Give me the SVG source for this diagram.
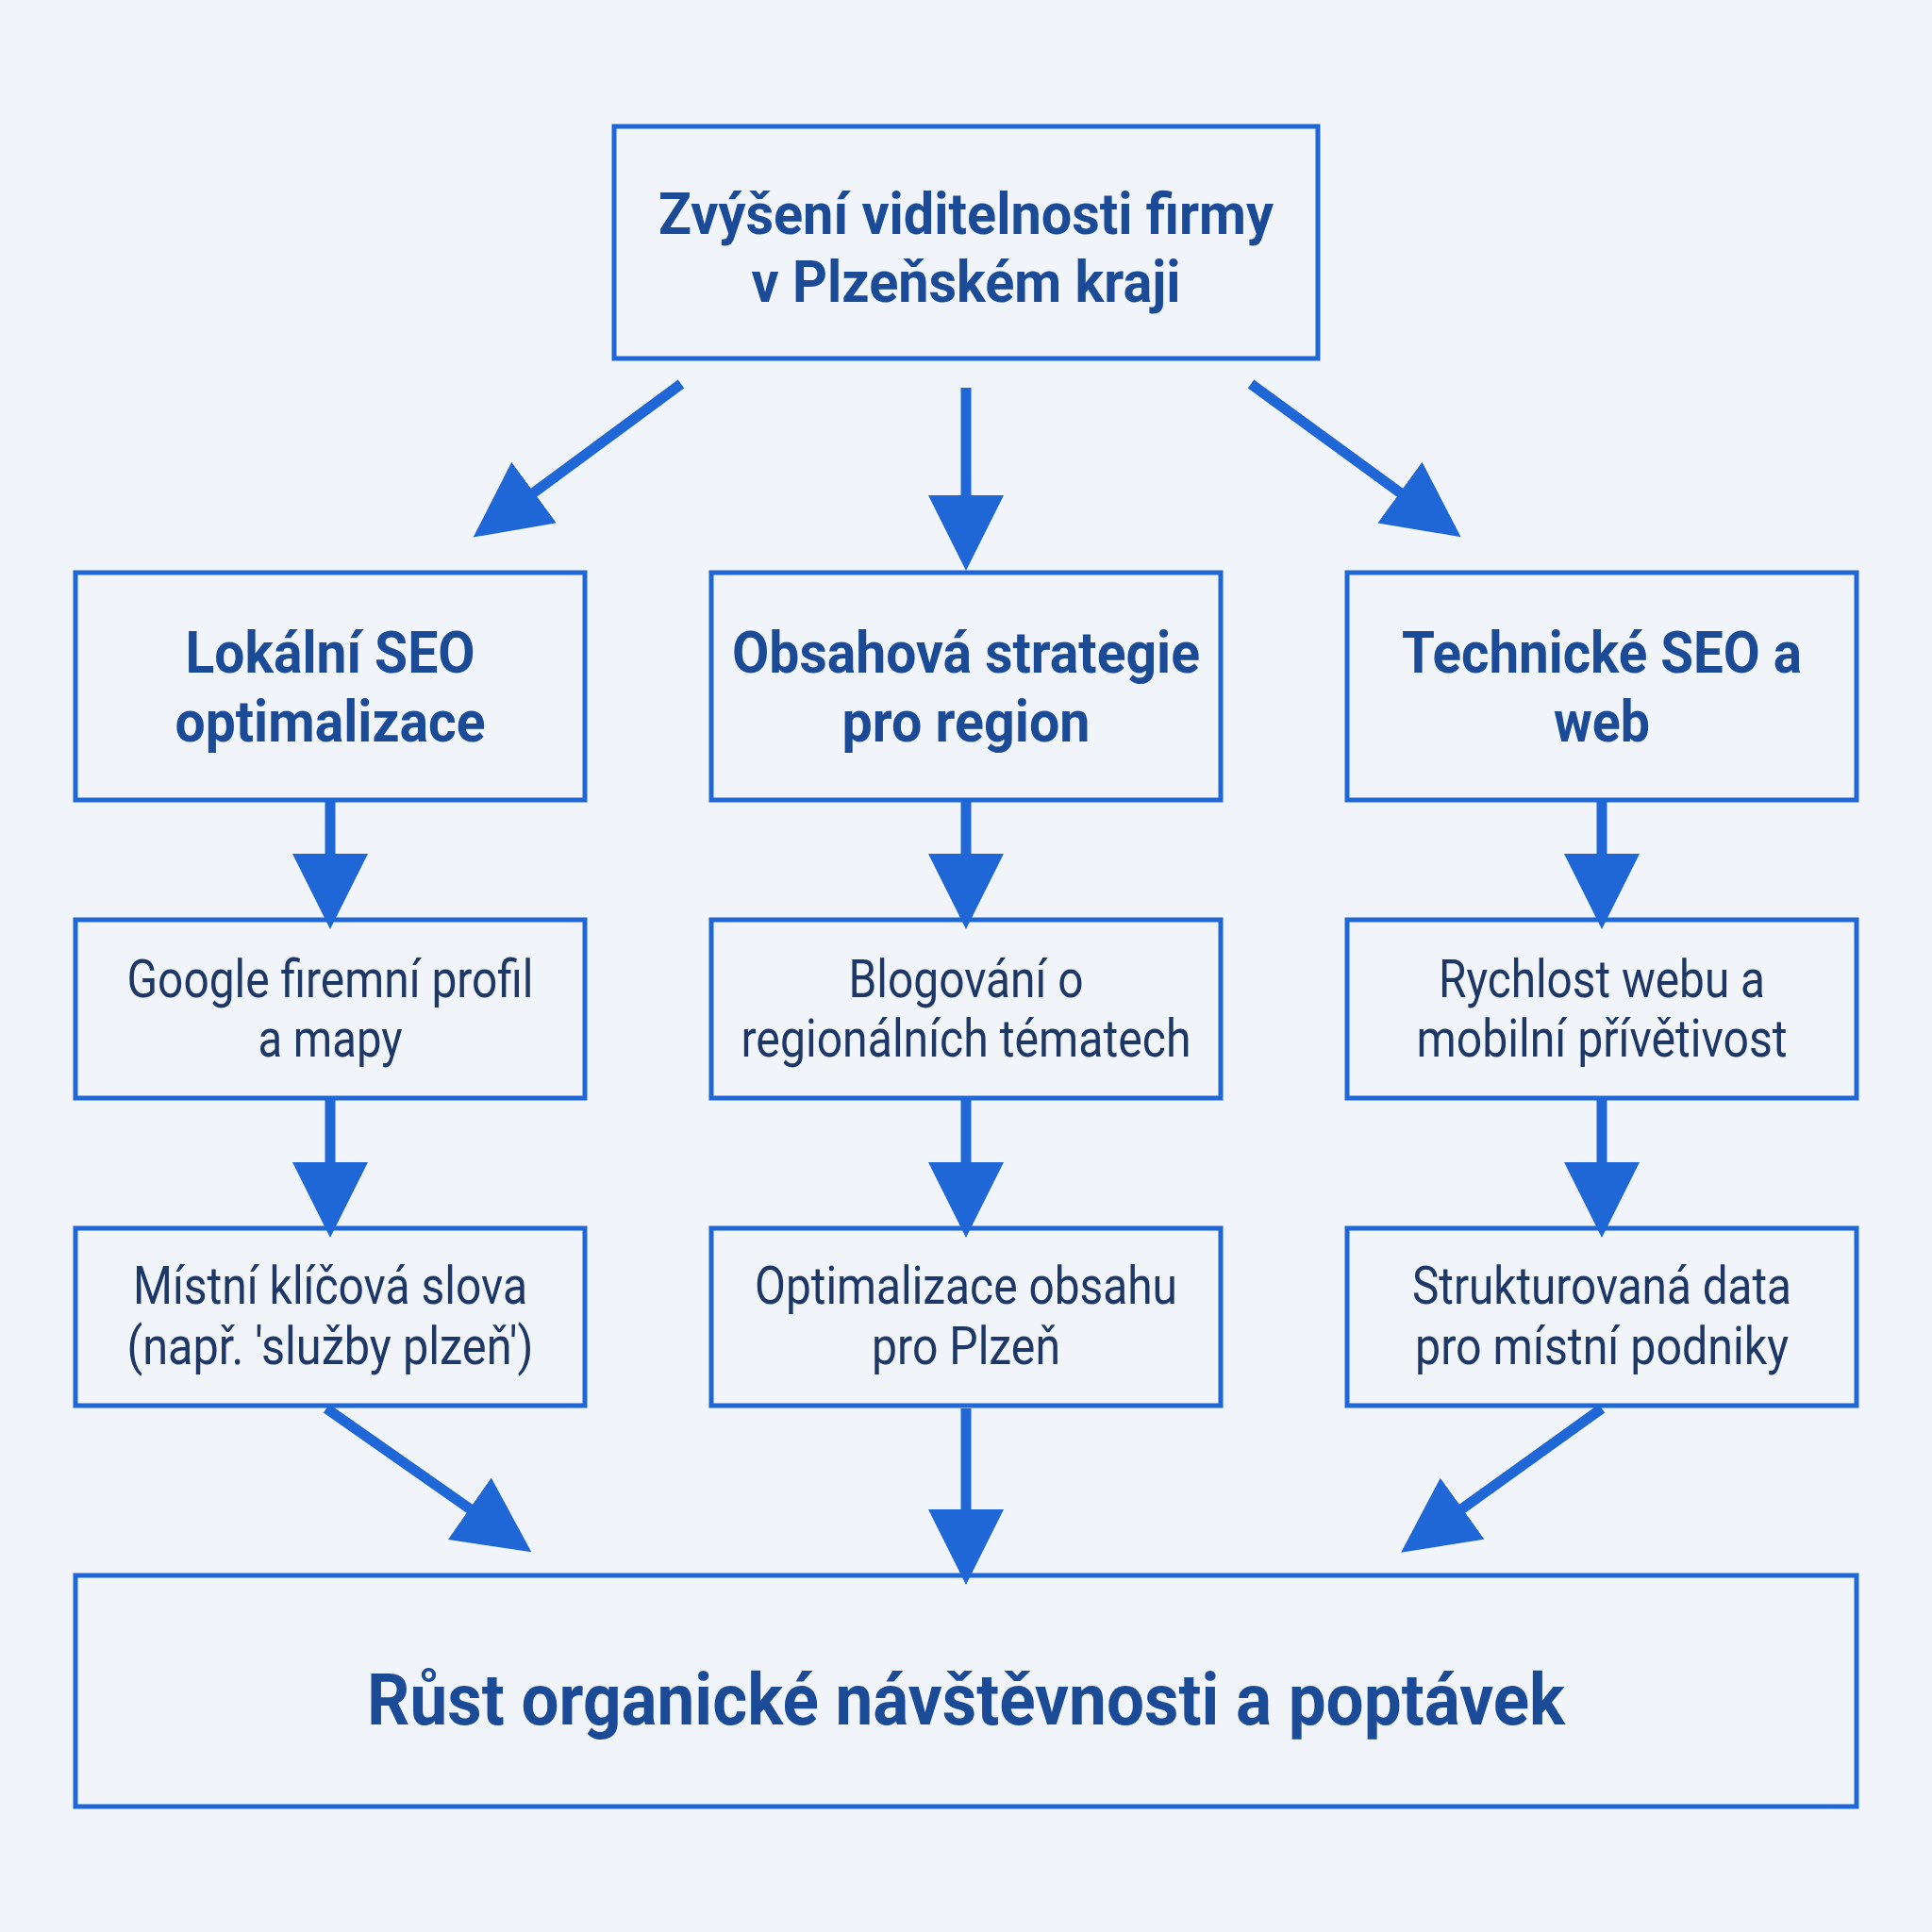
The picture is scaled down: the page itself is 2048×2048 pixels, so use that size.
<svg xmlns="http://www.w3.org/2000/svg" width="2048" height="2048" viewBox="0 0 2048 2048">
<style>
.box{fill:none;stroke:#1f66d6;stroke-width:5}
.b{font-family:Roboto,"Liberation Sans",sans-serif;font-weight:bold;fill:#1b4a96;text-anchor:middle}
.r{font-family:Roboto,"Liberation Sans",sans-serif;fill:#1d3766;text-anchor:middle;font-size:56px}
.c{stroke:#1f66d6;stroke-width:11;fill:none}
</style>
<defs>
<marker id="ah" markerUnits="userSpaceOnUse" markerWidth="80" markerHeight="80" viewBox="0 0 80 80" refX="10" refY="40" orient="auto">
<path d="M0,0 L80,40 L0,80 Z" fill="#1f66d6"/>
</marker>
</defs>
<rect width="2048" height="2048" fill="#f1f5f9"/>
<g id="connectors">
<line class="c" x1="722" y1="407" x2="558" y2="528" marker-end="url(#ah)"/>
<line class="c" x1="1024" y1="411" x2="1024" y2="535" marker-end="url(#ah)"/>
<line class="c" x1="1326" y1="407" x2="1492" y2="528" marker-end="url(#ah)"/>
<line class="c" x1="350" y1="848" x2="350" y2="915" marker-end="url(#ah)"/>
<line class="c" x1="1024" y1="848" x2="1024" y2="915" marker-end="url(#ah)"/>
<line class="c" x1="1698" y1="848" x2="1698" y2="915" marker-end="url(#ah)"/>
<line class="c" x1="350" y1="1164" x2="350" y2="1242" marker-end="url(#ah)"/>
<line class="c" x1="1024" y1="1164" x2="1024" y2="1242" marker-end="url(#ah)"/>
<line class="c" x1="1698" y1="1164" x2="1698" y2="1242" marker-end="url(#ah)"/>
<line class="c" x1="346" y1="1493" x2="506" y2="1605" marker-end="url(#ah)"/>
<line class="c" x1="1024" y1="1493" x2="1024" y2="1610" marker-end="url(#ah)"/>
<line class="c" x1="1698" y1="1493" x2="1542" y2="1605" marker-end="url(#ah)"/>
</g>
<g id="top"><rect class="box" x="651" y="134" width="746" height="246"/>
<text class="b" font-size="62" x="1024" y="248" textLength="652" lengthAdjust="spacingAndGlyphs">Zvýšení viditelnosti firmy</text>
<text class="b" font-size="62" x="1024" y="320" textLength="455" lengthAdjust="spacingAndGlyphs">v Plzeňském kraji</text></g>
<g id="n1"><rect class="box" x="80" y="607" width="540" height="241"/>
<text class="b" font-size="62" x="350" y="713" textLength="307" lengthAdjust="spacingAndGlyphs">Lokální SEO</text>
<text class="b" font-size="62" x="350" y="786" textLength="329" lengthAdjust="spacingAndGlyphs">optimalizace</text></g>
<g id="n2"><rect class="box" x="754" y="607" width="540" height="241"/>
<text class="b" font-size="62" x="1024" y="713" textLength="496" lengthAdjust="spacingAndGlyphs">Obsahová strategie</text>
<text class="b" font-size="62" x="1024" y="786" textLength="263" lengthAdjust="spacingAndGlyphs">pro region</text></g>
<g id="n3"><rect class="box" x="1428" y="607" width="540" height="241"/>
<text class="b" font-size="62" x="1698" y="713" textLength="424" lengthAdjust="spacingAndGlyphs">Technické SEO a</text>
<text class="b" font-size="62" x="1698" y="786" textLength="102" lengthAdjust="spacingAndGlyphs">web</text></g>
<g id="n4"><rect class="box" x="80" y="975" width="540" height="189"/>
<text class="r" x="350" y="1057" textLength="431" lengthAdjust="spacingAndGlyphs">Google firemní profil</text>
<text class="r" x="350" y="1120" textLength="153" lengthAdjust="spacingAndGlyphs">a mapy</text></g>
<g id="n5"><rect class="box" x="754" y="975" width="540" height="189"/>
<text class="r" x="1024" y="1057" textLength="249" lengthAdjust="spacingAndGlyphs">Blogování o</text>
<text class="r" x="1024" y="1120" textLength="477" lengthAdjust="spacingAndGlyphs">regionálních tématech</text></g>
<g id="n6"><rect class="box" x="1428" y="975" width="540" height="189"/>
<text class="r" x="1698" y="1057" textLength="346" lengthAdjust="spacingAndGlyphs">Rychlost webu a</text>
<text class="r" x="1698" y="1120" textLength="393" lengthAdjust="spacingAndGlyphs">mobilní přívětivost</text></g>
<g id="n7"><rect class="box" x="80" y="1302" width="540" height="188"/>
<text class="r" x="350" y="1382" textLength="418" lengthAdjust="spacingAndGlyphs">Místní klíčová slova</text>
<text class="r" x="350" y="1446" textLength="431" lengthAdjust="spacingAndGlyphs">(např. 'služby plzeň')</text></g>
<g id="n8"><rect class="box" x="754" y="1302" width="540" height="188"/>
<text class="r" x="1024" y="1382" textLength="448" lengthAdjust="spacingAndGlyphs">Optimalizace obsahu</text>
<text class="r" x="1024" y="1446" textLength="200" lengthAdjust="spacingAndGlyphs">pro Plzeň</text></g>
<g id="n9"><rect class="box" x="1428" y="1302" width="540" height="188"/>
<text class="r" x="1698" y="1382" textLength="402" lengthAdjust="spacingAndGlyphs">Strukturovaná data</text>
<text class="r" x="1698" y="1446" textLength="396" lengthAdjust="spacingAndGlyphs">pro místní podniky</text></g>
<g id="bottom"><rect class="box" x="80" y="1670" width="1888" height="245"/>
<text class="b" font-size="76" x="1024" y="1828" textLength="1270" lengthAdjust="spacingAndGlyphs">Růst organické návštěvnosti a poptávek</text></g>
</svg>
